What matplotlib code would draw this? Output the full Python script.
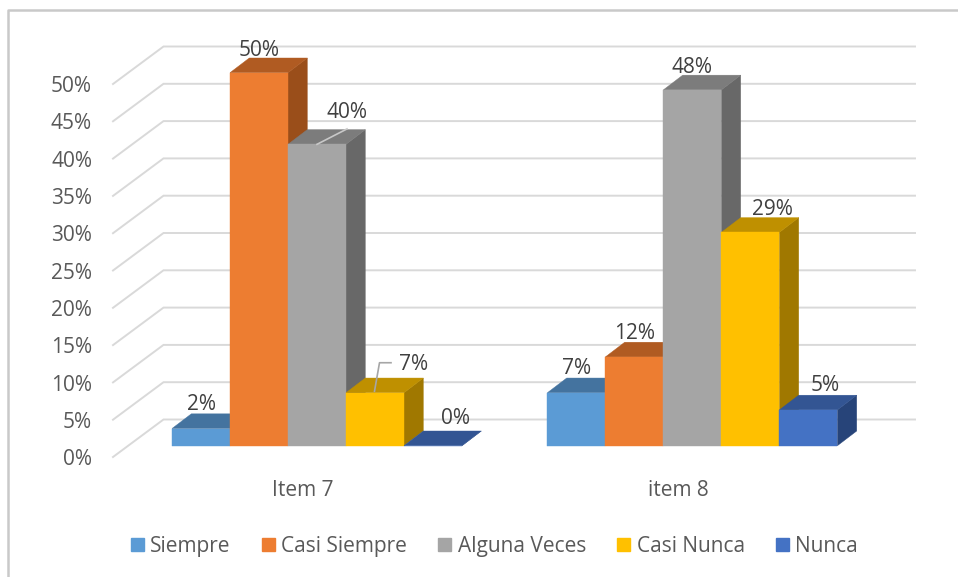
from matplotlib import pyplot as plt
from matplotlib.lines import Line2D
from matplotlib.patches import Patch, Polygon

categories = ["Item 7", "item 8"]
series_names = ["Siempre", "Casi Siempre", "Alguna Veces", "Casi Nunca", "Nunca"]

# one value per category
siempre = [2.3, 7.1]
casi_siempre = [50.0, 11.9]
alguna_veces = [40.4, 47.7]
casi_nunca = [7.1, 28.6]
nunca = [0.0, 4.8]

y_ticks = [0, 5, 10, 15, 20, 25, 30, 35, 40, 45, 50]

# front, top, side colour of each series
front_colors = ["#5B9BD5", "#ED7D31", "#A5A5A5", "#FFC000", "#4472C4"]
top_colors = ["#44739F", "#B05B22", "#7C7C7C", "#BF9000", "#335593"]
side_colors = ["#376087", "#9A4E1A", "#686868", "#A07800", "#274479"]

WIDTH, HEIGHT = 958, 577
PX_PER_CATEGORY = 375.4
PX_PER_PERCENT = 7.46
FIRST_CENTER_PX = 317.0
BASE_PX = 445.7
BAR_W = 58.0 / PX_PER_CATEGORY
DEPTH_X = 19.3 / PX_PER_CATEGORY
DEPTH_Y = 14.7 / PX_PER_PERCENT

# label offset from the bar's front top centre, pixels (right, up)
label_offsets = [
    [(0, 24), (0, 24)],
    [(0, 22), (0, 23)],
    [(30, 32), (0, 22.5)],
    [(39, 28), (21.6, 23)],
    [(23, 27), (17, 24)],
]

TEXT_FONT = "Open Sans"
FONT_SIZE = 15


def dx(px):
    return px / PX_PER_CATEGORY


def dy(px):
    return px / PX_PER_PERCENT


def draw_bar(ax, left, value, front, top, side):
    right = left + BAR_W
    ax.add_patch(Polygon([(right, 0), (right + DEPTH_X, DEPTH_Y), (right + DEPTH_X, value + DEPTH_Y), (right, value)],
                         facecolor=side, edgecolor=side, lw=0.3, zorder=3))
    ax.add_patch(Polygon([(left, value), (right, value), (right + DEPTH_X, value + DEPTH_Y), (left + DEPTH_X, value + DEPTH_Y)],
                         facecolor=top, edgecolor=top, lw=0.3, zorder=3))
    ax.add_patch(Polygon([(left, 0), (right, 0), (right, value), (left, value)],
                         facecolor=front, edgecolor=front, lw=0.3, zorder=3))


def draw_walls(ax):
    # x positions in data units, the wall sits behind the bars
    front_x = (113 - FIRST_CENTER_PX) / PX_PER_CATEGORY
    wall_x = (163.5 - FIRST_CENTER_PX) / PX_PER_CATEGORY
    end_x = (915 - FIRST_CENTER_PX) / PX_PER_CATEGORY
    for tick in y_ticks:
        front_y = tick - dy(11.3)
        wall_y = tick + dy(26.2)
        ax.plot([front_x, wall_x, end_x], [front_y, wall_y, wall_y], color="#D9D9D9", lw=1.4, zorder=1,
                solid_joinstyle="miter")
        ax.text(front_x - dx(21), tick - dy(14), "{}%".format(tick), ha="right", va="center",
                fontsize=FONT_SIZE, color="#595959", family=TEXT_FONT)


def main():
    fig = plt.figure(figsize=(WIDTH / 100, HEIGHT / 100), dpi=100)
    ax = fig.add_axes([0, 0, 1, 1])
    ax.set_xlim(-FIRST_CENTER_PX / PX_PER_CATEGORY, (WIDTH - FIRST_CENTER_PX) / PX_PER_CATEGORY)
    ax.set_ylim((BASE_PX - HEIGHT) / PX_PER_PERCENT, BASE_PX / PX_PER_PERCENT)
    ax.axis("off")

    # chart frame, only the top and left borders are visible
    fig.add_artist(Line2D([8 / WIDTH, 8 / WIDTH, 1], [0, 1 - 10 / HEIGHT, 1 - 10 / HEIGHT], color="#C9C9C9", lw=1.8))

    draw_walls(ax)

    all_series = [siempre, casi_siempre, alguna_veces, casi_nunca, nunca]
    for c in range(len(categories)):
        for s, values in enumerate(all_series):
            left = c + (s - 2.5) * BAR_W
            draw_bar(ax, left, values[c], front_colors[s], top_colors[s], side_colors[s])
            off_x, off_y = label_offsets[s][c]
            ax.text(left + BAR_W / 2 + dx(off_x), values[c] + dy(off_y), "{}%".format(round(values[c])),
                    ha="center", va="center", fontsize=FONT_SIZE, color="#404040", family=TEXT_FONT, zorder=6)
        ax.text(c - dx(14.5), dy(-44.5), categories[c], ha="center", va="center", fontsize=FONT_SIZE,
                color="#595959", family=TEXT_FONT)

    # leader lines of the two displaced labels, they start on the bar's top centre
    center_40 = 0
    ax.plot([center_40, center_40 + dx(30)], [alguna_veces[0], alguna_veces[0] + dy(15.4)],
            color="#C8C8C8", lw=1.2, zorder=5)
    center_7 = BAR_W
    ax.plot([center_7 - dx(0.5), center_7 + dx(4.5), center_7 + dx(16)],
            [casi_nunca[0] + dy(1.5), casi_nunca[0] + dy(30), casi_nunca[0] + dy(30)],
            color="#A6A6A6", lw=1.2, zorder=5)

    handles = [Patch(facecolor=color, edgecolor=color, label=name) for color, name in zip(front_colors, series_names)]
    ax.legend(handles=handles, ncol=5, loc="center", bbox_to_anchor=(494.5 / WIDTH, 1 - 546.5 / HEIGHT),
              frameon=False, prop={"family": TEXT_FONT, "size": FONT_SIZE}, labelcolor="#595959",
              handlelength=0.625, handleheight=0.625, handletextpad=0.3, columnspacing=1.5,
              borderpad=0, borderaxespad=0)

    fig.savefig("out.png", dpi=100, facecolor="white")


if __name__ == '__main__':
    main()
